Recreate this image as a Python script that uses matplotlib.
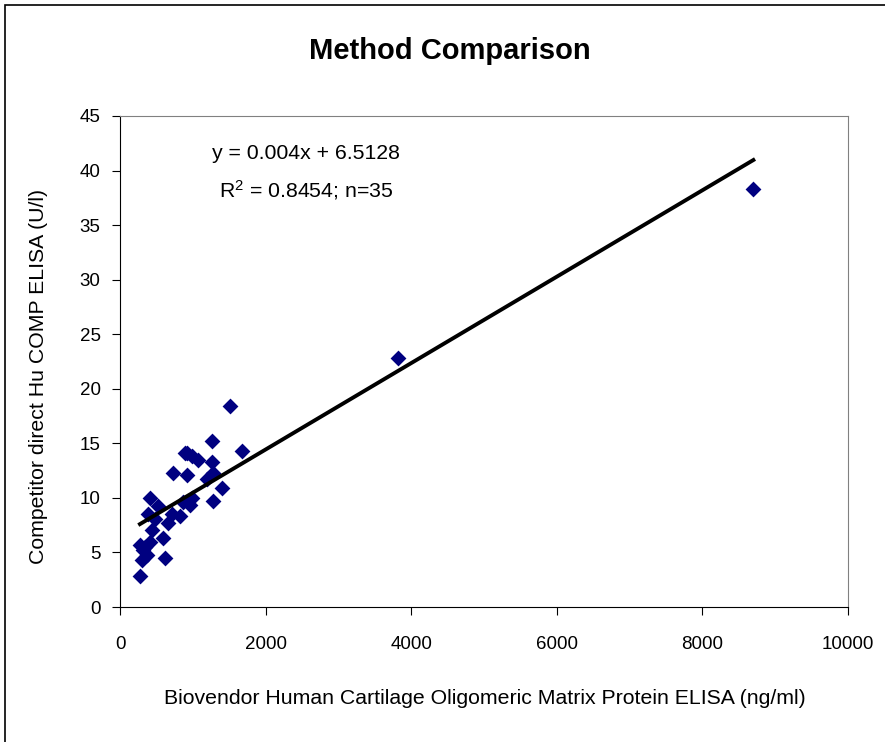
import numpy as np
import matplotlib.pyplot as plt
from matplotlib.patches import Rectangle

plt.rcParams['font.family'] = ['Liberation Sans Narrow', 'Liberation Sans', 'DejaVu Sans']

# Biovendor COMP ELISA (ng/ml) vs competitor ELISA (U/l)
biovendor = [1509, 1258, 1669, 915, 892, 983, 1075, 1258, 732, 915,
             1280, 1189, 1395, 412, 526, 1280, 983, 869, 960, 389,
             709, 480, 823, 663, 434, 594, 412, 274, 366, 297,
             617, 274, 343, 320, 8700, 3820]
competitor = [18.4, 15.2, 14.3, 14.1, 14.1, 13.8, 13.5, 13.3, 12.3, 12.1,
              12.25, 11.7, 10.9, 10.0, 9.3, 9.7, 10.0, 9.6, 9.35, 8.5,
              8.5, 8.1, 8.3, 7.7, 7.05, 6.3, 6.0, 5.7, 4.8, 4.3,
              4.45, 2.85, 5.5, 5.2, 38.3, 22.8]

# trend line (as drawn; label shows rounded slope)
slope = 0.00396
intercept = 6.5128

fig = plt.figure(figsize=(8.85, 7.42), dpi=100)
fig.patches.append(Rectangle((5 / 885, -0.1), 1.2, 1.1 - 5 / 742, transform=fig.transFigure,
                             fill=False, edgecolor='black', linewidth=1.2))

ax = fig.add_axes([120 / 885, 1 - 607 / 742, 728 / 885, 491 / 742])
ax.scatter(biovendor, competitor, marker='D', s=65, color='#000080', zorder=3, linewidths=0)

xs = np.array([min(biovendor), max(biovendor)])
ax.plot(xs, slope * xs + intercept, color='black', linewidth=2.8, zorder=4)

ax.set_xlim(0, 10000)
ax.set_ylim(0, 45)
ax.set_xticks(range(0, 10001, 2000))
ax.set_yticks(range(0, 46, 5))
ax.tick_params(direction='out', length=6, labelsize=13.5)
ax.tick_params(axis='x', pad=15)
ax.tick_params(axis='y', pad=8)

ax.spines['top'].set_color('#808080')
ax.spines['right'].set_color('#808080')

ax.text(2551, 41.6, 'y = 0.004x + 6.5128', fontsize=15.3, ha='center', va='center')
ax.text(2551, 38.2, '$\\mathregular{R^2}$ = 0.8454; n=35', fontsize=15.3, ha='center', va='center')

fig.text(450 / 885, 1 - 51 / 742, 'Method Comparison', fontsize=21, fontweight='bold',
         ha='center', va='center')
ax.set_xlabel('Biovendor Human Cartilage Oligomeric Matrix Protein ELISA (ng/ml)', fontsize=15.3)
ax.xaxis.set_label_coords((485 - 120) / 728, -(698 - 607) / 491)
ax.set_ylabel('Competitor direct Hu COMP ELISA (U/l)', fontsize=15.3)
ax.yaxis.set_label_coords(-(120 - 38) / 728, (607 - 376) / 491)
ax.xaxis.label.set_va('center')
ax.yaxis.label.set_va('center')

fig.savefig('out.png', dpi=100)
